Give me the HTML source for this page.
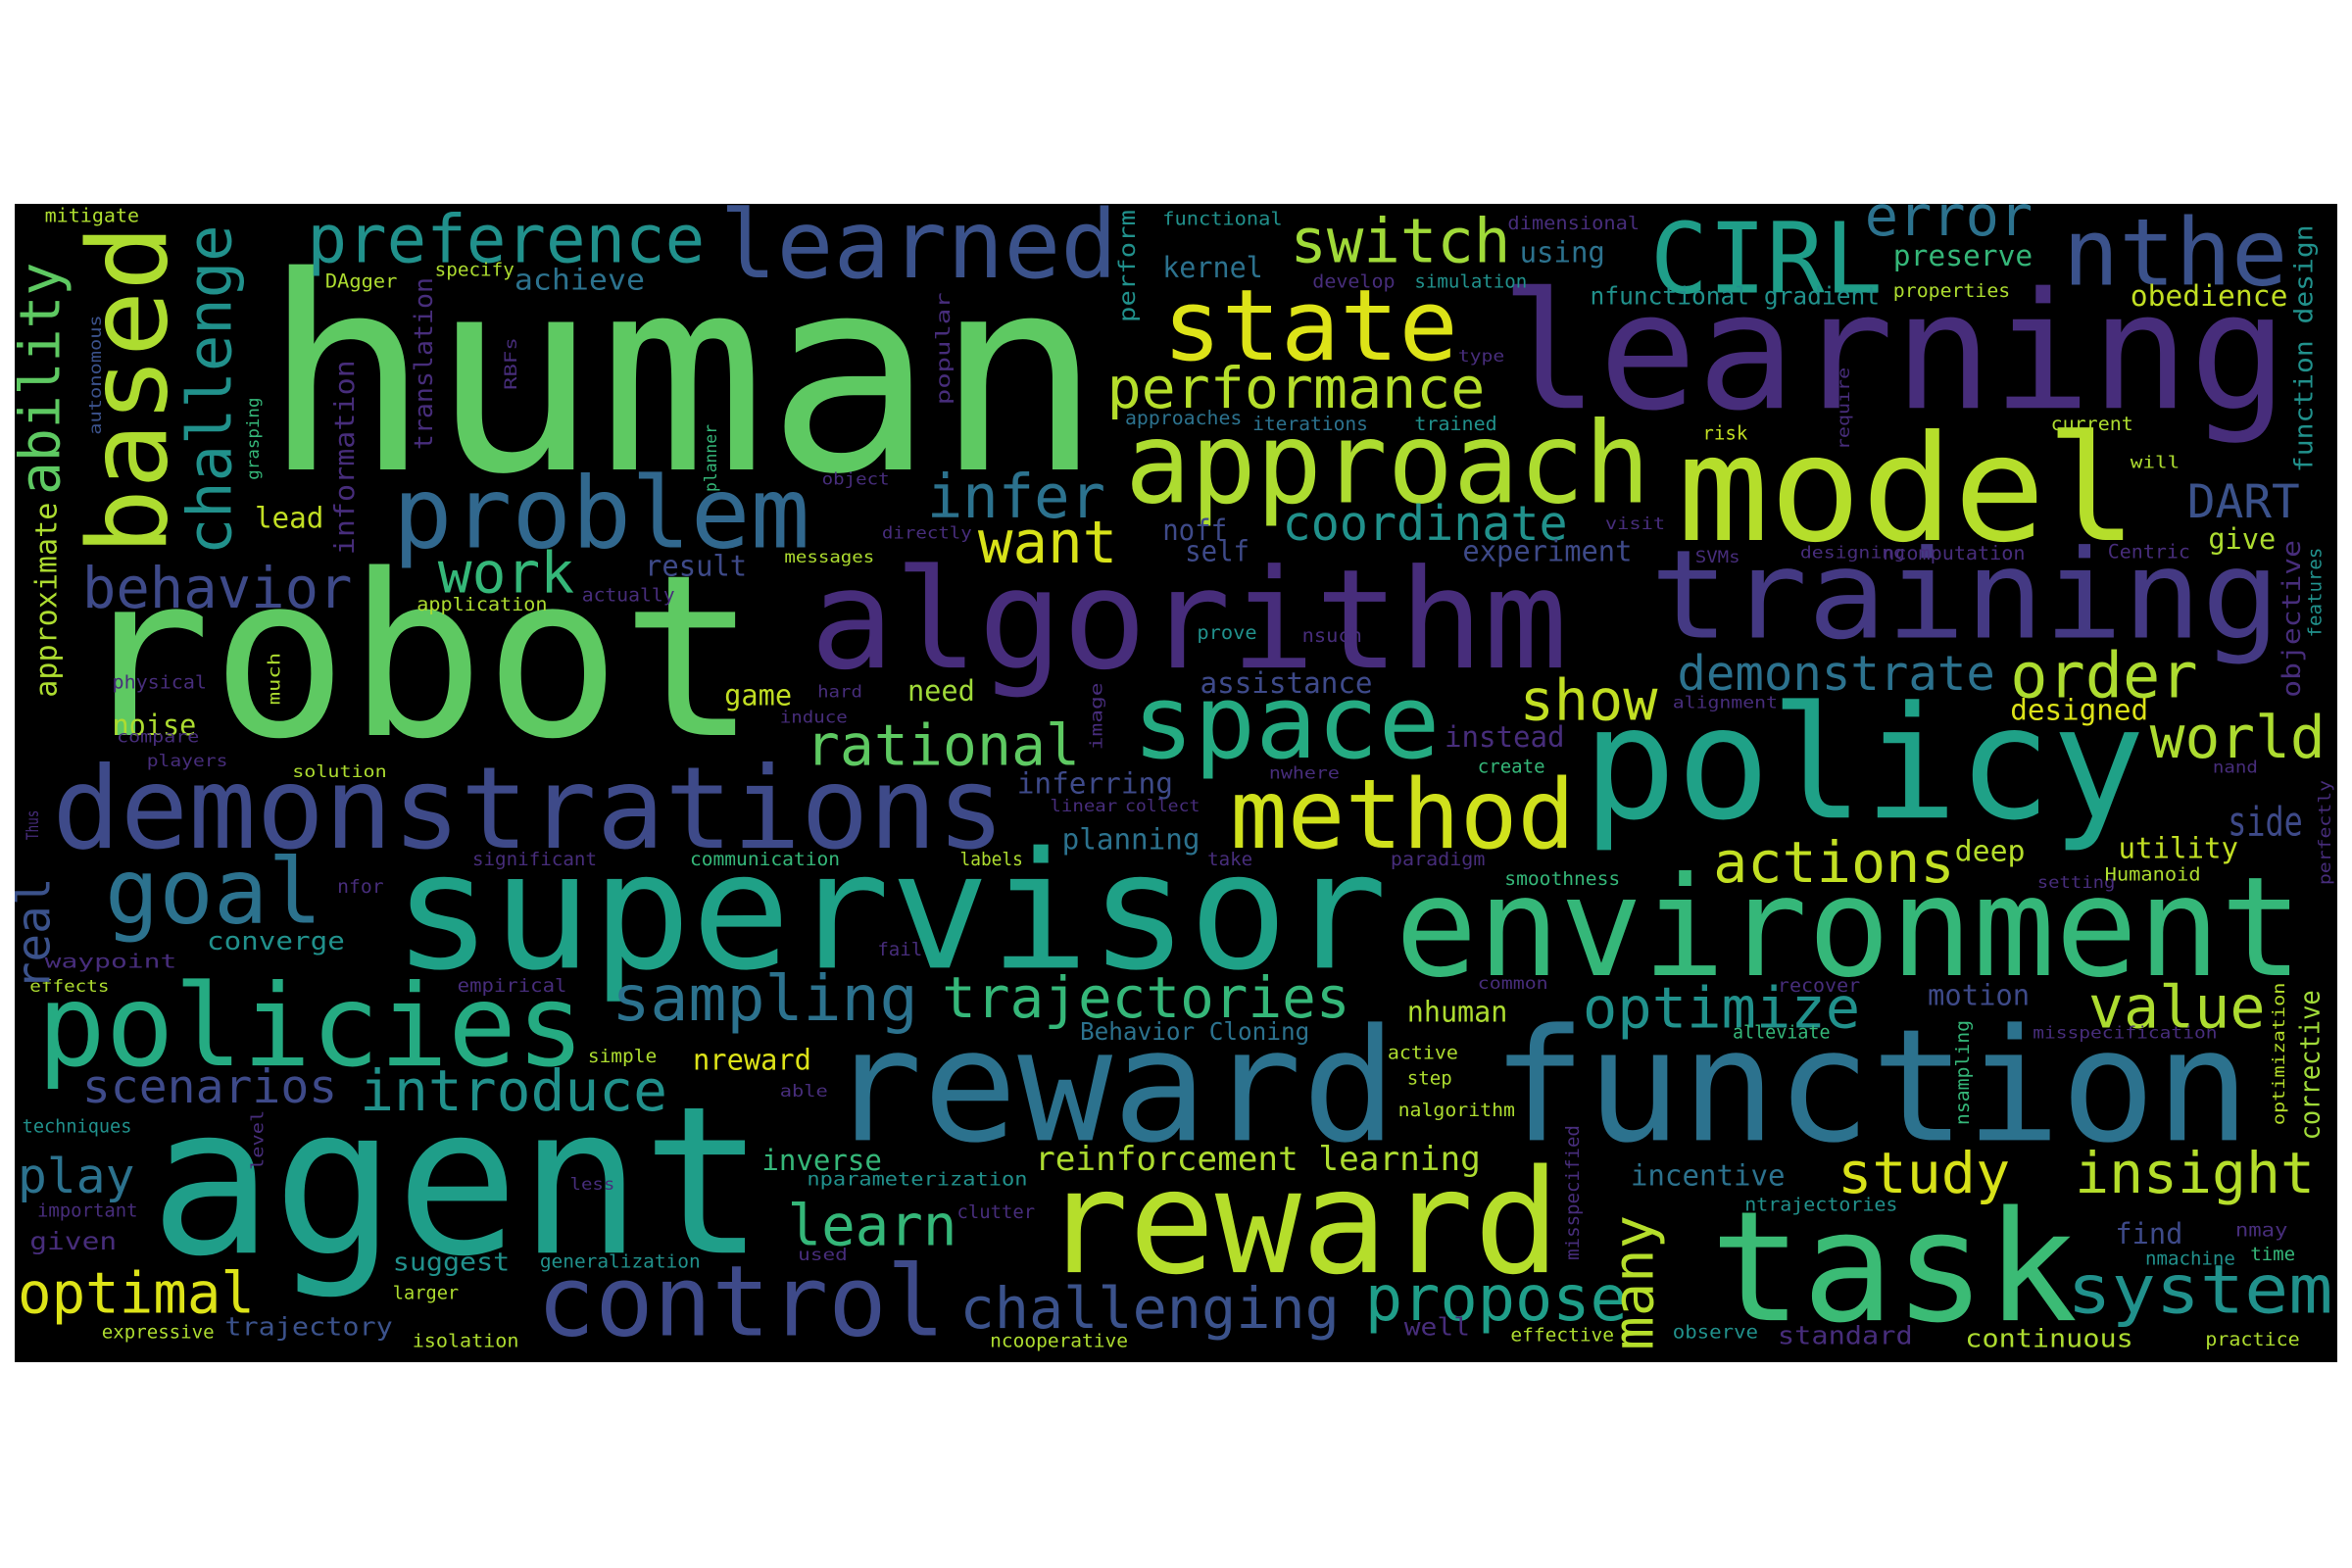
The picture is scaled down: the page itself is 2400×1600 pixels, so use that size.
<!DOCTYPE html>
<html><head><meta charset="utf-8"><style>
html,body{margin:0;padding:0;background:#fff;}
body{width:2400px;height:1600px;position:relative;overflow:hidden;}
#cloud{position:absolute;left:15px;top:208px;width:2370px;height:1182px;background:#000;}
text{font-family:"DejaVu Sans Mono","Liberation Mono",monospace;}
</style></head><body>
<svg id="cloud" viewBox="10 136 1548 772" preserveAspectRatio="none" xmlns="http://www.w3.org/2000/svg">
<rect x="10" y="136" width="1548" height="772" fill="#000"/>
<g id="words"></g>
</svg>
<script>
const G='#5ec962',L='#addc30',Y='#dde318',T='#21918c',B='#3b528b',P='#472d7b',D='#2c728e',M='#35b779',C='#1fa187',V='#443983';
// [word, x, baseline-y, font-size, length, colour, rotated]
const words=[
["human",175,313,180,560,G,0],["robot",50,490,150,455,G,0],["learning",1000,272,108,525,P,0],
["algorithm",540,445,92,505,P,0],["training",1100,425,82,420,V,0],["model",1118,360,98,307,'#b5de2b',0],
["approach",750,335,75,350,L,0],["policy",1055,545,104,375,C,0],["supervisor",262,645,108,663,C,0],
["environment",930,650,92,605,M,0],["reward function",552,760,104,948,D,0],["agent",100,835,137,410,'#1f9e89',0],
["reward",695,848,96,345,'#b5de2b',0],["task",1140,880,102,245,'#3bbb75',0],["demonstrations",35,565,76,635,'#3e4a89',0],
["policies",25,710,76,365,'#25ab82',0],["control",358,890,65,272,'#3e4a89',0],["method",820,565,64,230,'#d0e11c',0],
["space",755,505,68,205,'#25ab82',0],["problem",262,365,66,278,'#31688e',0],["preference",205,175,44,265,T,0],
["learned",480,185,63,265,B,0],["CIRL",1100,195,65,155,'#1f9e89',0],["nthe",1375,190,62,150,B,0],
["error",1243,157,37,112,D,0],["switch",860,175,41,147,'#a0da39',0],["state",775,240,66,197,Y,0],
["performance",738,272,38,252,'#b5de2b',0],["infer",618,345,40,119,D,0],["coordinate",855,360,32,190,T,0],
["DART",1458,345,31,75,B,0],["behavior",55,405,38,180,'#3e4a89',0],["work",292,395,38,91,M,0],
["want",652,375,39,93,'#d8e219',0],["demonstrate",1118,460,32,212,D,0],["order",1340,465,42,125,L,0],
["show",1013,480,38,92,'#c2df23',0],["world",1433,505,39,117,L,0],["rational",537,510,38,183,G,0],
["goal",70,615,60,145,D,0],["actions",1142,588,38,161,'#c2df23',0],["side",1485,557,27,50,'#3e4a89',0],
["sampling",408,680,42,204,D,0],["trajectories",628,678,38,272,M,0],["optimize",1055,685,38,185,T,0],
["value",1392,685,39,118,L,0],["scenarios",55,735,31,170,'#3e4a89',0],["introduce",240,740,38,205,T,0],
["play",12,795,32,78,D,0],["optimal",12,875,38,158,Y,0],["learn",525,830,38,113,M,0],
["challenging",640,885,38,253,B,0],["propose",910,880,42,175,'#1f9e89',0],["study",1225,795,38,115,'#d8e219',0],
["insight",1383,795,38,160,'#b5de2b',0],["system",1378,875,45,177,T,0],["reinforcement learning",690,780,22,297,L,0],
["incentive",1087,790,19,103,D,0],["inverse",508,780,19,80,M,0],["nreward",462,713,19,79,Y,0],
["Behavior Cloning",720,693,16,153,D,0],["nhuman",938,681,19,67,L,0],["motion",1285,670,19,68,'#3e4a89',0],
["find",1410,829,19,45,'#3e4a89',0],["deep",1303,574,19,47,'#b5de2b',0],["utility",1412,572,19,80,'#c2df23',0],
["designed",1340,480,19,92,Y,0],["planning",708,566,19,92,D,0],["inferring",678,529,19,104,'#3e4a89',0],
["instead",963,498,19,80,P,0],["assistance",800,462,19,115,'#3e4a89',0],["game",483,470,19,45,'#c2df23',0],
["need",605,467,19,45,'#a0da39',0],["noise",75,490,19,56,L,0],["lead",170,352,19,46,'#c2df23',0],
["result",430,384,19,68,'#3e4a89',0],["noff",775,360,19,43,'#3e4a89',0],["self",790,374,19,43,'#3e4a89',0],
["experiment",975,374,19,113,'#3e4a89',0],["give",1472,366,19,45,L,0],["obedience",1420,204,19,105,'#c2df23',0],
["preserve",1262,177,19,93,M,0],["using",1013,175,19,57,D,0],["kernel",775,185,19,67,D,0],
["achieve",343,193,19,87,D,0],["mitigate",30,148,13,63,L,0],["nfunctional gradient",1060,203,16,193,T,0],
["risk",1135,293,13,30,'#c2df23',0],["current",1367,287,13,55,L,0],["approaches",750,283,13,78,D,0],
["iterations",835,287,13,77,D,0],["trained",943,287,13,55,T,0],["ncomputation",1255,373,13,95,P,0],
["SVMs",1130,375,11,30,P,0],["designing",1200,372,11,70,P,0],["Centric",1405,372,13,55,P,0],
["prove",798,426,13,40,T,0],["nsuch",868,428,13,40,P,0],["alignment",1115,472,11,70,P,0],
["create",985,515,13,45,M,0],["nwhere",846,519,11,47,P,0],["collect",750,541,11,50,P,0],
["linear",700,541,11,45,P,0],["labels",640,577,12,42,L,0],["take",805,577,12,30,P,0],
["paradigm",927,577,12,63,P,0],["smoothness",1003,590,12,77,M,0],["setting",1358,592,11,52,P,0],
["Humanoid",1403,587,12,64,L,0],["nand",1475,515,11,30,P,0],["communication",460,577,12,100,M,0],
["significant",315,577,12,83,P,0],["nfor",225,595,12,31,P,0],["converge",138,633,17,92,T,0],
["waypoint",30,645,13,88,P,0],["effects",20,661,11,53,L,0],["empirical",305,661,12,73,P,0],
["fail",585,637,12,30,P,0],["common",985,659,11,47,P,0],["recover",1185,661,12,55,P,0],
["alleviate",1155,692,12,65,M,0],["misspecification",1355,692,11,123,P,0],["simple",392,708,12,46,L,0],
["able",520,731,11,32,P,0],["active",925,706,12,47,L,0],["step",938,723,12,30,L,0],
["nalgorithm",932,744,12,78,L,0],["techniques",15,755,12,73,T,0],["less",380,793,11,30,P,0],
["nparameterization",538,790,12,147,T,0],["important",25,811,12,67,P,0],["clutter",638,812,12,52,P,0],
["given",20,833,16,58,P,0],["suggest",262,847,17,78,T,0],["generalization",360,845,12,107,T,0],
["used",532,840,11,33,P,0],["ntrajectories",1163,807,12,102,T,0],["nmay",1490,824,12,35,P,0],
["nmachine",1430,843,12,60,T,0],["time",1500,840,12,30,M,0],["larger",262,866,12,44,L,0],
["expressive",68,892,12,75,L,0],["trajectory",150,890,17,112,B,0],["isolation",275,898,12,71,L,0],
["ncooperative",660,898,12,92,L,0],["well",936,890,16,44,P,0],["effective",1007,894,12,69,L,0],
["observe",1115,892,12,57,T,0],["standard",1185,896,17,90,P,0],["continuous",1310,898,17,112,L,0],
["practice",1470,897,12,63,L,0],["physical",75,459,12,63,P,0],["compare",78,495,11,55,P,0],
["players",98,511,11,54,P,0],["solution",195,518,11,63,L,0],["hard",545,465,11,30,P,0],
["induce",520,482,11,45,P,0],["application",278,407,12,87,L,0],["actually",388,401,12,62,P,0],
["messages",523,375,11,60,L,0],["directly",588,359,11,60,P,0],["object",548,323,11,45,P,0],
["DAgger",217,192,13,48,L,0],["specify",290,184,12,53,L,0],["functional",775,150,12,80,T,0],
["dimensional",1005,153,12,88,P,0],["develop",875,192,12,55,P,0],["simulation",943,192,12,75,T,0],
["type",972,241,11,31,P,0],["properties",1262,198,12,78,L,0],["will",1420,312,11,33,L,0],
["visit",1070,353,11,40,P,0],
// rotated: x = right edge of column, y = bottom, length along y
["based",127,370,73,220,L,1],["challenge",163,370,41,220,T,1],["ability",48,330,37,155,G,1],
["approximate",42,465,20,130,L,1],["real",40,660,31,75,B,1],["many",1110,900,37,90,'#b5de2b',1],
["corrective",1550,760,18,100,'#a0da39',1],["optimization",1525,750,11,95,'#b5de2b',1],
["perfectly",1556,590,11,70,P,1],["level",178,780,11,40,P,1],["much",189,470,11,35,L,1],
["image",737,500,11,45,P,1],["Thus",28,560,11,20,P,1],["popular",636,270,13,75,P,1],
["translation",292,300,17,115,P,1],["information",240,370,18,130,P,1],["autonomous",70,290,11,80,B,1],
["grasping",175,320,11,55,M,1],["RBFs",347,260,11,35,P,1],["perform",760,215,15,75,T,1],
["planner",480,328,11,45,M,1],["require",1235,300,11,55,P,1],["function design",1545,315,17,165,T,1],
["features",1550,425,12,60,T,1],["objective",1537,465,17,105,P,1],["nsampling",1315,750,12,70,M,1],
["misspecified",1055,840,12,90,P,1]
];
const g=document.getElementById('words');
const NS='http://www.w3.org/2000/svg';
for(const w of words){
  const t=document.createElementNS(NS,'text');
  t.textContent=w[0];
  t.setAttribute('font-size',w[3]);
  t.setAttribute('fill',w[5]);
  t.setAttribute('textLength',w[4]);
  t.setAttribute('lengthAdjust','spacingAndGlyphs');
  if(w[6]){
    t.setAttribute('x',0);t.setAttribute('y',0);
    t.setAttribute('transform','translate('+(w[1]-w[3]*0.22)+','+w[2]+') rotate(-90)');
  }else{
    t.setAttribute('x',w[1]);t.setAttribute('y',w[2]);
  }
  
  
  g.appendChild(t);
}
</script>
</body></html>
